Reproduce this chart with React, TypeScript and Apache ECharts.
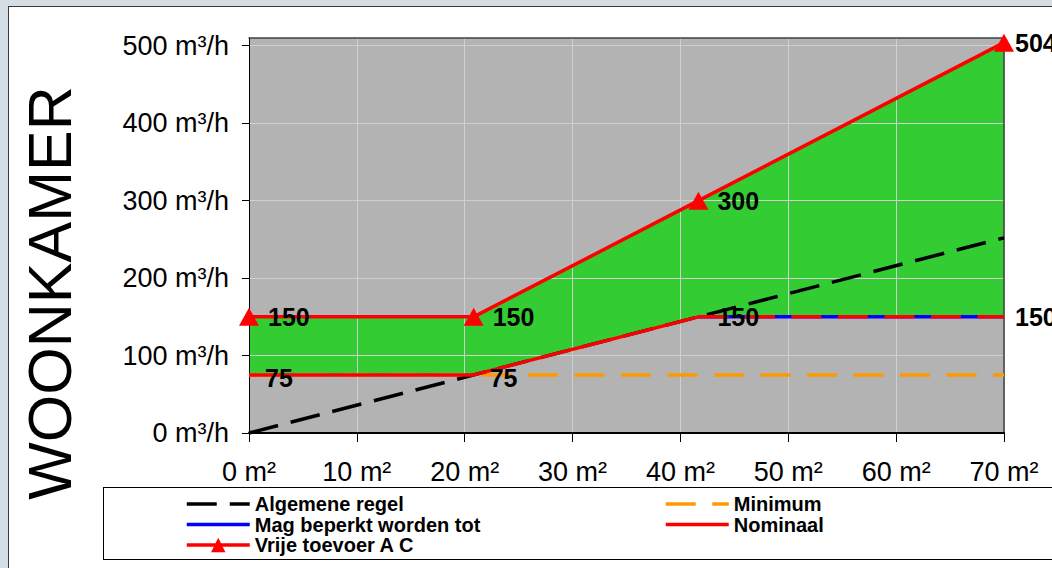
import React, { useEffect, useRef } from "react";
import * as echarts from "echarts";

// ---- data ----
const areaPoints = [0, 20.83, 41.67, 70]; // m²
const vrijeToevoer = [150, 150, 300, 504]; // m³/h
const nominaal = [75, 75, 150, 150]; // m³/h
const algemeneX = [0, 70];
const algemeneRegel = [0, 252];
const minimumX = [0, 20.83, 41.67, 70];
const minimum = [75, 75, 75, 75];
const magBeperktX = [41.67, 70];
const magBeperkt = [150, 150];
const xTicks = [0, 10, 20, 30, 40, 50, 60, 70];
const yTicks = [0, 100, 200, 300, 400, 500];
const yTitle = "WOONKAMER";
const legendLeft = ["Algemene regel", "Mag beperkt worden tot", "Vrije toevoer A C"];
const legendRight = ["Minimum", "Nominaal"];
const legendWithMarker = ["Vrije toevoer A C"];

const FONT = '"Liberation Sans", Arial, Helvetica, sans-serif';
const RED = "#ff0000";

const zip = (xs: number[], ys: number[]) => xs.map((x, i) => [x, ys[i]]);

export default function App() {
  const ref = useRef<HTMLDivElement>(null);

  useEffect(() => {
    if (!ref.current) return;
    const chart = echarts.init(ref.current, undefined, { renderer: "svg" });

    const labelBase = {
      show: true,
      position: "right",
      fontSize: 25,
      fontWeight: "bold",
      color: "#000",
      fontFamily: FONT,
      formatter: (p: any) => String(p.value[1]),
    };

    const nomSolidN = 3;
    const nominaalSolid = areaPoints.slice(0, nomSolidN).map((x, i) => ({
      value: [x, nominaal[i]],
      symbol: "circle",
      symbolSize: 0,
      label: { ...labelBase, distance: i < 2 ? 16 : 19, offset: [0, i < 2 ? 3 : 0] },
    }));
    const nominaalDashed = areaPoints.slice(nomSolidN - 1).map((x, j) => {
      const i = j + nomSolidN - 1;
      const last = i === areaPoints.length - 1;
      return {
        value: [x, nominaal[i]],
        symbol: last ? "circle" : "none",
        symbolSize: 0,
        label: last ? { ...labelBase, distance: 11 } : { show: false },
      };
    });
    const vrijeData = areaPoints.map((x, i) => ({
      value: [x, vrijeToevoer[i]],
      label: { ...labelBase, distance: i === areaPoints.length - 1 ? 1 : 9 },
    }));

    const axisLabelStyle = { fontSize: 27, color: "#000", fontFamily: FONT };
    const grid = "#cfcfcf";

    const legendItems = (names: string[]) =>
      names.map((name) =>
        legendWithMarker.includes(name)
          ? { name }
          : { name, itemStyle: { color: "rgba(0,0,0,0)", borderColor: "rgba(0,0,0,0)", borderWidth: 0 } }
      );
    const legendCommon = {
      orient: "vertical",
      top: 494,
      padding: 0,
      itemWidth: 63,
      itemHeight: 18,
      itemGap: 0.5,
      selectedMode: false,
      lineStyle: { width: 3.5 },
      textStyle: { fontSize: 20, fontWeight: "bold", color: "#000", fontFamily: FONT, lineHeight: 20 },
    };

    const option: any = {
      animation: false,
      textStyle: { fontFamily: FONT },
      grid: {
        left: 249,
        right: 48,
        top: 38,
        bottom: 135,
        show: true,
        backgroundColor: "#b3b3b3",
        borderWidth: 0,
        z: -10,
      },
      xAxis: [
        {
          type: "value",
          min: 0,
          max: 70,
          interval: 10,
          position: "bottom",
          axisLine: { show: true, onZero: false, lineStyle: { color: "#000", width: 2 } },
          axisTick: { show: true, length: 9, lineStyle: { color: "#000", width: 1 } },
          axisLabel: {
            ...axisLabelStyle,
            margin: 25,
            customValues: xTicks,
            formatter: (v: number) => `${v} m²`,
          },
          splitLine: { show: true, lineStyle: { color: grid, width: 1 } },
        },
        {
          type: "value",
          min: 0,
          max: 70,
          position: "top",
          axisLine: { show: true, onZero: false, lineStyle: { color: "#404040", width: 1.5 } },
          axisTick: { show: false },
          axisLabel: { show: false },
          splitLine: { show: false },
        },
      ],
      yAxis: [
        {
          type: "value",
          min: 0,
          max: 510,
          interval: 100,
          axisLine: { show: true, onZero: false, lineStyle: { color: "#000", width: 1 } },
          axisTick: { show: true, length: 7, customValues: yTicks, lineStyle: { color: "#000", width: 1 } },
          axisLabel: {
            ...axisLabelStyle,
            margin: 20,
            customValues: yTicks,
            formatter: (v: number) => `${v} m³/h`,
          },
          splitLine: { show: true, lineStyle: { color: grid, width: 1 } },
        },
        {
          type: "value",
          min: 0,
          max: 510,
          position: "right",
          axisLine: { show: true, onZero: false, lineStyle: { color: "#404040", width: 1.5 } },
          axisTick: { show: false },
          axisLabel: { show: false },
          splitLine: { show: false },
        },
      ],
      legend: [
        { ...legendCommon, left: 185, data: legendItems(legendLeft) },
        { ...legendCommon, left: 664, data: legendItems(legendRight) },
      ],
      graphic: [
        {
          type: "text",
          x: 50,
          y: 293,
          rotation: Math.PI / 2,
          style: {
            text: yTitle,
            fontSize: 61,
            fontFamily: FONT,
            fill: "#000",
            align: "center",
            verticalAlign: "middle",
            textAlign: "center",
            textVerticalAlign: "middle",
          },
        },
      ],
      series: [
        {
          type: "custom",
          z: -5,
          silent: true,
          clip: false,
          data: [[0, 0]],
          renderItem: (_params: any, api: any) => {
            const upper = areaPoints.map((x, i) => api.coord([x, vrijeToevoer[i]]));
            const lower = areaPoints.map((x, i) => api.coord([x, nominaal[i]])).reverse();
            return {
              type: "polygon",
              shape: { points: [...upper, ...lower] },
              style: { fill: "#33cc33" },
            };
          },
        },
        {
          name: "Minimum",
          type: "line",
          z: 2,
          clip: false,
          symbol: "none",
          data: zip(minimumX, minimum),
          lineStyle: { color: "#ff9900", width: 3.5, type: [30, 16.5] },
          itemStyle: { color: "#ff9900" },
        },
        {
          name: "Algemene regel",
          type: "line",
          z: 3,
          clip: false,
          symbol: "none",
          data: zip(algemeneX, algemeneRegel),
          lineStyle: { color: "#000", width: 3.5, type: [30, 13] },
          itemStyle: { color: "#000" },
        },
        {
          name: "Mag beperkt worden tot",
          type: "line",
          z: 4,
          clip: false,
          symbol: "none",
          data: zip(magBeperktX, magBeperkt),
          lineStyle: { color: "#0000ff", width: 3.5 },
          itemStyle: { color: "#0000ff" },
        },
        {
          name: "Nominaal",
          type: "line",
          z: 5,
          clip: false,
          symbol: "none",
          data: nominaalSolid,
          lineStyle: { color: RED, width: 3.5 },
          itemStyle: { color: RED },
        },
        {
          name: "Nominaal (vervolg)",
          type: "line",
          z: 5,
          clip: false,
          symbol: "none",
          data: nominaalDashed,
          lineStyle: { color: RED, width: 3.5, type: [30, 16.5] },
          itemStyle: { color: RED },
        },
        {
          name: "Vrije toevoer A C",
          type: "line",
          z: 6,
          clip: false,
          symbol: "triangle",
          symbolSize: [20, 18],
          data: vrijeData,
          lineStyle: { color: RED, width: 3.5 },
          itemStyle: { color: RED },
        },
      ],
    };

    chart.setOption(option);
    return () => chart.dispose();
  }, []);

  return (
    <div
      style={{
        position: "fixed",
        left: 0,
        top: 0,
        width: 1052,
        height: 568,
        background: "#d5dee5",
        overflow: "hidden",
      }}
    >
      <div
        style={{
          position: "absolute",
          left: 8,
          top: 6,
          width: 1100,
          height: 600,
          background: "#fff",
          borderLeft: "1.5px solid #3a3a3a",
          borderTop: "1.5px solid #3a3a3a",
        }}
      />
      <div
        style={{
          position: "absolute",
          left: 103,
          top: 487,
          width: 1000,
          height: 71,
          background: "#fff",
          border: "1.5px solid #000",
        }}
      />
      <div ref={ref} style={{ position: "absolute", left: 0, top: 0, width: 1052, height: 568 }} />
    </div>
  );
}
